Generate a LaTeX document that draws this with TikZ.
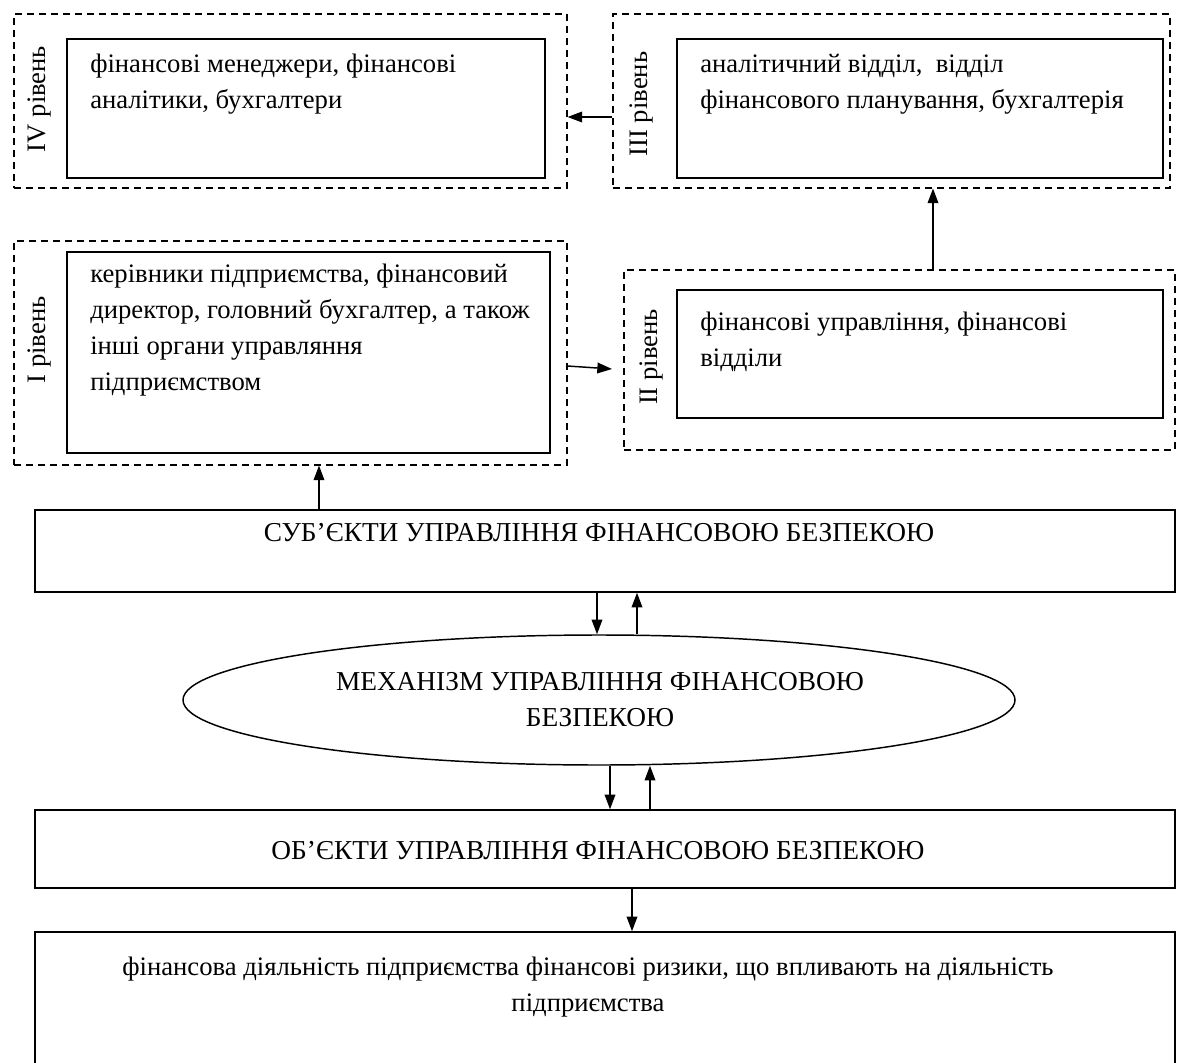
\documentclass[tikz,border=0pt]{standalone}
\usepackage{fontspec}
\setmainfont{Liberation Serif}
\usetikzlibrary{arrows.meta,fit,shapes.geometric}
\begin{document}
\begin{tikzpicture}[x=0.75pt,y=-0.75pt,
  dashbox/.style={draw, dashed, dash pattern=on 5pt off 4pt, line width=0.8pt, inner sep=0pt},
  solidbox/.style={draw, line width=1.1pt, inner sep=0pt},
  txt/.style={font=\fontsize{20}{27}\selectfont, inner sep=0pt},
  captxt/.style={font=\fontsize{20.5}{27}\selectfont, inner sep=0pt},
  arr/.style={-{Triangle[length=11pt,width=8pt]}, line width=1.1pt},
]
\useasboundingbox (0,0) rectangle (1178,1063);

% level boxes
\node[dashbox, fit={(14,14) (567,188)}] (d4) {};
\node[solidbox, fit={(67,39) (545,178)}] (b4) {};
\node[dashbox, fit={(613,14) (1170,188)}] (d3) {};
\node[solidbox, fit={(677,39) (1163,178)}] (b3) {};
\node[dashbox, fit={(14,241) (567,465)}] (d1) {};
\node[solidbox, fit={(67,252) (550,453)}] (b1) {};
\node[dashbox, fit={(624,270) (1175,450)}] (d2) {};
\node[solidbox, fit={(677,290) (1163,418)}] (b2) {};

% rotated labels
\node[txt, rotate=90] (l4) at (40,99) {IV рівень};
\node[txt, rotate=90] (l3) at (642,104) {III рівень};
\node[txt, rotate=90] (l1) at (40,340) {I рівень};
\node[txt, rotate=90] (l2) at (652,357) {II рівень};

% box texts
\node[txt, anchor=north west, align=left] (t4) at (90,54) {фінансові менеджери, фінансові\\аналітики, бухгалтери};
\node[txt, anchor=north west, align=left] (t3) at (700,54) {аналітичний відділ,\ \ відділ\\фінансового планування, бухгалтерія};
\node[txt, anchor=north west, align=left] (t1) at (90,264) {керівники підприємства, фінансовий\\директор, головний бухгалтер, а також\\інші органи управляння\\підприємством};
\node[txt, anchor=north west, align=left] (t2) at (700,312) {фінансові управління, фінансові\\відділи};

% main boxes
\node[solidbox, fit={(35,510) (1175,592)}] (sub) {};
\node[captxt] (tsub) at (599,533) {СУБ’ЄКТИ УПРАВЛІННЯ ФІНАНСОВОЮ БЕЗПЕКОЮ};
\node[draw, line width=1.1pt, ellipse, inner sep=0pt, minimum width=624pt, minimum height=97.5pt] (mech) at (599,700) {};
\node[captxt, align=center] (tmech) at (600,700) {МЕХАНІЗМ УПРАВЛІННЯ ФІНАНСОВОЮ\\БЕЗПЕКОЮ};
\node[solidbox, fit={(35,810) (1175,888)}] (ob) {};
\node[captxt] (tob) at (598,851) {ОБ’ЄКТИ УПРАВЛІННЯ ФІНАНСОВОЮ БЕЗПЕКОЮ};
\node[solidbox, fit={(35,932) (1175,1085)}] (fin) {};
\node[txt, align=center] (tfin) at (588,987) {фінансова діяльність підприємства фінансові ризики, що впливають на діяльність\\підприємства};

% connectors
\coordinate (c43) at (0,117);
\draw[arr] (d3.west |- c43) -- (d4.east |- c43);
\coordinate (c23) at (933,0);
\draw[arr] (d2.north -| c23) -- (d3.south -| c23);
\coordinate (c12a) at (0,366);
\coordinate (c12b) at (612,369);
\draw[arr] (d1.east |- c12a) -- (c12b);
\coordinate (cs1) at (319,0);
\draw[arr] (sub.north -| cs1) -- (d1.south -| cs1);
\coordinate (cm1) at (597,0);
\coordinate (cm2) at (637,0);
\draw[arr] (sub.south -| cm1) -- (mech.north -| cm1);
\draw[arr] (mech.north -| cm2) -- (sub.south -| cm2);
\coordinate (cm3) at (610,0);
\coordinate (cm4) at (650,0);
\draw[arr] (mech.south -| cm3) -- (ob.north -| cm3);
\draw[arr] (ob.north -| cm4) -- (mech.south -| cm4);
\coordinate (cb) at (632,0);
\draw[arr] (ob.south -| cb) -- (fin.north -| cb);
\end{tikzpicture}
\end{document}
